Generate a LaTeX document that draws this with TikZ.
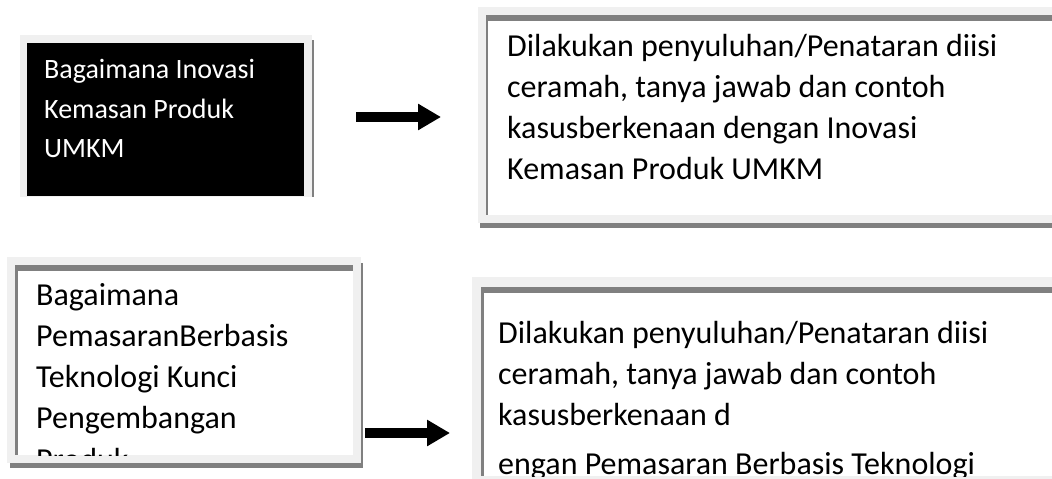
\documentclass[tikz,border=0pt]{standalone}
\usepackage{fontspec}
\setmainfont{Carlito}
\usetikzlibrary{arrows.meta}
\definecolor{framegray}{HTML}{F0F0F0}
\definecolor{edgegray}{HTML}{808080}
\tikzset{
  lightframe/.style={fill=framegray},
  darkedge/.style={fill=edgegray},
  inner/.style={fill=white},
  bigline/.style={anchor=base west, inner sep=0pt, font=\fontsize{32}{38}\selectfont},
  smallline/.style={anchor=base west, inner sep=0pt, font=\fontsize{28}{34}\selectfont, text=white},
  blockarrow/.style={line width=10pt, -{Triangle[width=25pt,length=23pt]}},
}
\begin{document}
\begin{tikzpicture}[x=1pt,y=-1pt]
\useasboundingbox[fill=white] (0,0) rectangle (1052,479);

% ---- Box 1 (black) ----
\fill[lightframe] (20,35) rectangle (312,197);
\fill[darkedge] (312,40) rectangle (314,197);
\fill[black] (27,43) rectangle (304,196);
\node[smallline] (b1l1) at (44,78) {Bagaimana Inovasi};
\node[smallline] (b1l2) at (44,118) {Kemasan Produk};
\node[smallline] (b1l3) at (44,157) {UMKM};

% ---- Box 2 ----
\fill[darkedge] (480,223) rectangle (1052,228);
\fill[lightframe] (478,7) rectangle (1052,223);
\fill[darkedge] (486,15) rectangle (1052,215);
\fill[inner] (488,21) rectangle (1052,215);
\node[bigline] (b2l1) at (507,56) {Dilakukan penyuluhan/Penataran diisi};
\node[bigline] (b2l2) at (507,97) {ceramah, tanya jawab dan contoh};
\node[bigline] (b2l3) at (507,138) {kasusberkenaan dengan Inovasi};
\node[bigline] (b2l4) at (507,179) {Kemasan Produk UMKM};

% ---- Box 3 ----
\fill[darkedge] (10,463) rectangle (363,468);
\fill[darkedge] (361,263) rectangle (363,468);
\fill[lightframe] (7,257) rectangle (361,463);
\fill[darkedge] (15,265) rectangle (353,455);
\fill[inner] (18,271) rectangle (353,455);
\begin{scope}
\clip (18,271) rectangle (353,455);
\node[bigline] (b3l1) at (36,305) {Bagaimana};
\node[bigline] (b3l2) at (36,346) {PemasaranBerbasis};
\node[bigline] (b3l3) at (36,387) {Teknologi Kunci};
\node[bigline] (b3l4) at (36,428) {Pengembangan};
\node[bigline] (b3l5) at (36,470) {Produk};
\end{scope}

% ---- Box 4 ----
\fill[lightframe] (472,277) rectangle (1052,479);
\fill[darkedge] (481,287) rectangle (1052,476);
\fill[inner] (484,293) rectangle (1052,476);
\begin{scope}
\clip (484,293) rectangle (1052,476);
\node[bigline] (b4l1) at (498,343) {Dilakukan penyuluhan/Penataran diisi};
\node[bigline] (b4l2) at (498,384) {ceramah, tanya jawab dan contoh};
\node[bigline] (b4l3) at (498,425) {kasusberkenaan d};
\node[bigline] (b4l4) at (498,474) {engan Pemasaran Berbasis Teknologi};
\end{scope}

% ---- Arrows ----
\coordinate (a1s) at (356,117);
\coordinate (a1e) at (441,117);
\coordinate (a2s) at (365,433);
\coordinate (a2e) at (450,433);
\draw[blockarrow] (a1s) -- (a1e);
\draw[blockarrow] (a2s) -- (a2e);
\end{tikzpicture}
\end{document}
